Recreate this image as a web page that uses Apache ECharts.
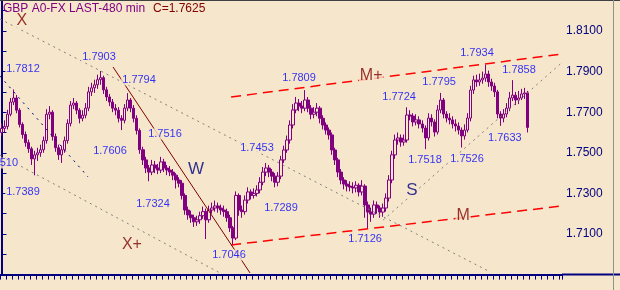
<!DOCTYPE html>
<html><head><meta charset="utf-8">
<script src="https://cdn.jsdelivr.net/npm/echarts@6/dist/echarts.min.js"></script>
<style>html,body{margin:0;padding:0;background:#F6E7CC;} #c{width:620px;height:290px;}</style>
</head><body><div id="c"></div><script>
// ---- data ----
const firstOpen = 1.7600;
const closes = [1.7620,1.7630,1.7690,1.7750,1.7770,1.7710,1.7640,1.7590,1.7550,1.7520,
1.7470,1.7490,1.7500,1.7515,1.7560,1.7690,1.7700,1.7580,1.7525,1.7490,
1.7515,1.7560,1.7645,1.7735,1.7745,1.7710,1.7670,1.7685,1.7720,1.7800,
1.7820,1.7835,1.7860,1.7870,1.7810,1.7775,1.7750,1.7720,1.7710,1.7670,
1.7660,1.7720,1.7760,1.7720,1.7670,1.7610,1.7515,1.7465,1.7425,1.7405,
1.7440,1.7425,1.7415,1.7455,1.7425,1.7415,1.7405,1.7390,1.7366,1.7350,
1.7290,1.7218,1.7194,1.7180,1.7160,1.7170,1.7190,1.7210,1.7170,1.7218,
1.7228,1.7238,1.7228,1.7218,1.7210,1.7180,1.7130,1.7080,1.7290,1.7218,
1.7210,1.7267,1.7307,1.7290,1.7300,1.7317,1.7355,1.7405,1.7425,1.7405,
1.7385,1.7355,1.7385,1.7465,1.7514,1.7563,1.7637,1.7711,1.7745,1.7730,
1.7720,1.7760,1.7720,1.7690,1.7700,1.7720,1.7670,1.7637,1.7612,1.7588,
1.7514,1.7465,1.7405,1.7366,1.7346,1.7336,1.7331,1.7327,1.7340,1.7307,
1.7336,1.7243,1.7208,1.7198,1.7243,1.7228,1.7208,1.7228,1.7277,1.7366,
1.7490,1.7563,1.7573,1.7553,1.7563,1.7686,1.7681,1.7652,1.7662,1.7642,
1.7622,1.7573,1.7671,1.7652,1.7602,1.7711,1.7760,1.7691,1.7671,1.7662,
1.7642,1.7632,1.7612,1.7583,1.7612,1.7671,1.7809,1.7859,1.7849,1.7859,
1.7868,1.7888,1.7849,1.7829,1.7800,1.7691,1.7671,1.7691,1.7720,1.7770,
1.7784,1.7760,1.7770,1.7790,1.7795,1.7625];
const highs = [1.7645,1.7660,1.7712,1.7770,1.7812,1.7785,1.7720,1.7650,1.7605,1.7565,
1.7530,1.7510,1.7525,1.7540,1.7580,1.7715,1.7730,1.7710,1.7595,1.7540,
1.7535,1.7580,1.7665,1.7755,1.7770,1.7755,1.7720,1.7710,1.7745,1.7825,
1.7845,1.7860,1.7885,1.7903,1.7880,1.7825,1.7790,1.7765,1.7740,1.7725,
1.7685,1.7740,1.7794,1.7770,1.7735,1.7685,1.7620,1.7530,1.7480,1.7440,
1.7465,1.7460,1.7445,1.7480,1.7470,1.7440,1.7435,1.7420,1.7400,1.7380,
1.7365,1.7300,1.7235,1.7215,1.7195,1.7190,1.7210,1.7235,1.7225,1.7240,
1.7255,1.7265,1.7255,1.7245,1.7240,1.7225,1.7195,1.7140,1.7310,1.7300,
1.7240,1.7290,1.7330,1.7320,1.7325,1.7340,1.7380,1.7430,1.7450,1.7440,
1.7420,1.7400,1.7405,1.7485,1.7535,1.7585,1.7660,1.7740,1.7775,1.7765,
1.7755,1.7809,1.7775,1.7735,1.7725,1.7745,1.7730,1.7685,1.7650,1.7625,
1.7600,1.7525,1.7475,1.7420,1.7380,1.7365,1.7360,1.7355,1.7360,1.7350,
1.7365,1.7345,1.7260,1.7230,1.7265,1.7260,1.7240,1.7250,1.7300,1.7390,
1.7510,1.7590,1.7600,1.7590,1.7590,1.7724,1.7710,1.7695,1.7690,1.7680,
1.7660,1.7635,1.7695,1.7690,1.7665,1.7735,1.7795,1.7770,1.7705,1.7695,
1.7680,1.7665,1.7650,1.7625,1.7640,1.7695,1.7830,1.7880,1.7885,1.7890,
1.7900,1.7934,1.7905,1.7865,1.7845,1.7810,1.7705,1.7715,1.7745,1.7800,
1.7858,1.7800,1.7805,1.7815,1.7820,1.7805];
const lows = [1.7585,1.7600,1.7615,1.7680,1.7735,1.7695,1.7625,1.7570,1.7530,1.7500,
1.7440,1.7389,1.7460,1.7480,1.7500,1.7545,1.7665,1.7560,1.7505,1.7465,
1.7450,1.7500,1.7545,1.7630,1.7715,1.7690,1.7645,1.7655,1.7670,1.7705,
1.7780,1.7795,1.7815,1.7835,1.7790,1.7755,1.7730,1.7700,1.7685,1.7650,
1.7612,1.7645,1.7705,1.7700,1.7650,1.7590,1.7495,1.7440,1.7400,1.7360,
1.7390,1.7400,1.7395,1.7400,1.7405,1.7390,1.7385,1.7365,1.7324,1.7330,
1.7270,1.7195,1.7170,1.7155,1.7135,1.7140,1.7150,1.7175,1.7075,1.7155,
1.7200,1.7210,1.7205,1.7195,1.7185,1.7160,1.7110,1.7046,1.7070,1.7190,
1.7180,1.7195,1.7250,1.7270,1.7275,1.7285,1.7300,1.7340,1.7385,1.7380,
1.7360,1.7330,1.7335,1.7370,1.7450,1.7500,1.7545,1.7620,1.7695,1.7705,
1.7695,1.7705,1.7700,1.7665,1.7670,1.7680,1.7645,1.7615,1.7590,1.7565,
1.7490,1.7440,1.7380,1.7345,1.7320,1.7310,1.7310,1.7300,1.7305,1.7285,
1.7290,1.7180,1.7126,1.7160,1.7180,1.7200,1.7180,1.7185,1.7210,1.7260,
1.7350,1.7470,1.7540,1.7530,1.7535,1.7550,1.7660,1.7630,1.7635,1.7620,
1.7600,1.7518,1.7560,1.7630,1.7580,1.7590,1.7695,1.7670,1.7650,1.7640,
1.7620,1.7605,1.7590,1.7526,1.7565,1.7600,1.7655,1.7790,1.7825,1.7830,
1.7840,1.7850,1.7825,1.7805,1.7775,1.7670,1.7633,1.7650,1.7675,1.7705,
1.7755,1.7735,1.7740,1.7760,1.7765,1.7600];
const barCount = 187;               // slots on the time axis (incl. empty future)
const yTicks = [1.71,1.73,1.75,1.77,1.79,1.81];

// trend lines: [x index, price]
const lineUpperM = [[76.4,1.7775],[186.5,1.7987]];
const lineLowerM = [[76.4,1.7046],[186.5,1.7238]];
const lineW      = [[37.1,1.7923],[82.7,1.6908]];
const lineGrayA  = [[-0.5,1.8159],[162.6,1.6913]];
const lineGrayB  = [[-0.5,1.7489],[72.7,1.6908]];
const lineNavy   = [[-0.5,1.7878],[28.8,1.7381]];
const lineGrayS  = [[127.0,1.7169],[185.9,1.7937]];

// price annotations: text, x index, price
const priceNotes = [
 ['1.7812',7.15,1.7913],['1.7903',32.45,1.7972],['1.7794',45.76,1.7859],
 ['1.7389',7.15,1.7307],['1.7606',36.1,1.7509],['1.7516',54.4,1.7593],
 ['1.7324',50.4,1.7248],['1.7453',85.0,1.7524],['1.7289',93.0,1.7228],
 ['1.7046',75.7,1.6997],['1.7809',99.0,1.7868],['1.7126',121.0,1.7075],
 ['1.7724',132.3,1.7775],['1.7795',145.6,1.7849],['1.7934',158.2,1.7992],
 ['1.7858',172.2,1.7908],['1.7518',140.9,1.7465],['1.7526',154.9,1.7469],
 ['1.7633',167.5,1.7573]
];
const leftCutNote = ['1.7510',6.0,1.7450];
const waveNotes = [['W',64.7,1.7420,'#000080'],['S',136.6,1.7317,'#000080']];
const levelNotes = [['M+',123.0,1.7878],['M',153.6,1.7189],['X+',43.4,1.7046],['X',6.8,1.8149]];

// ---- build ----
const BG = '#F6E7CC', PURPLE = '#800080', NAVY = '#000080', DRED = '#800000';
const FONT = 'Liberation Sans, Arial, sans-serif';
const cats = []; for (let i = 0; i < barCount; i++) cats.push(String(i + 1));
const candles = closes.map((c, i) => [i === 0 ? firstOpen : closes[i - 1], c, lows[i], highs[i]]);

function lineSeries(pts, color, width, type) {
  return { type: 'line', xAxisIndex: 1, yAxisIndex: 0, data: pts, symbol: 'none', silent: true,
    animation: false, z: 3, lineStyle: { color: color, width: width, type: type } };
}
const noteData = [];
priceNotes.forEach(n => noteData.push({ value: [n[1], n[2]], name: n[0],
  label: { color: '#0000ff', fontSize: 11 } }));
noteData.push({ value: [leftCutNote[1], leftCutNote[2]], name: leftCutNote[0],
  label: { color: '#0000ff', fontSize: 11, position: 'left', distance: 0 } });
waveNotes.forEach(n => noteData.push({ value: [n[1], n[2]], name: n[0],
  label: { color: n[3], fontSize: 17 } }));
levelNotes.forEach(n => noteData.push({ value: [n[1], n[2]], name: n[0],
  label: { color: DRED, fontSize: 16 } }));

const chart = echarts.init(document.getElementById('c'), null, { renderer: 'canvas' });
chart.setOption({
  animation: false,
  backgroundColor: BG,
  textStyle: { fontFamily: FONT },
  grid: { left: 0, right: 58, top: 0, bottom: 15.4, containLabel: false },
  xAxis: [
    { type: 'category', data: cats, boundaryGap: true,
      axisLine: { lineStyle: { color: NAVY, width: 2 } },
      axisTick: { show: true, interval: 1, length: 5, lineStyle: { color: NAVY } },
      axisLabel: { show: false }, splitLine: { show: false } },
    { type: 'value', min: -0.5, max: barCount - 0.5, show: false }
  ],
  yAxis: [{
    type: 'value', position: 'right', min: 1.69, max: 1.82527, interval: 0.01,
    axisLine: { show: true, lineStyle: { color: NAVY, width: 2 } },
    axisTick: { show: true, length: 5, lineStyle: { color: NAVY } },
    splitLine: { show: false },
    axisLabel: { color: NAVY, fontSize: 12, fontFamily: FONT, margin: 4, showMaxLabel: false,
      formatter: v => (yTicks.some(t => Math.abs(t - v) < 1e-6) ? v.toFixed(4) : '') }
  }],
  graphic: [
    { type: 'text', left: 3, top: 3, z: 20,
      style: { text: 'GBP A0-FX LAST-480 min', fill: PURPLE, font: '12px ' + FONT } },
    { type: 'text', left: 153, top: 3, z: 20,
      style: { text: 'C=' + closes[closes.length - 1].toFixed(4), fill: DRED, font: '12px ' + FONT } },
    { type: 'line', z: 20, shape: { x1: 562, y1: 274.5, x2: 620, y2: 274.5 }, style: { stroke: NAVY, lineWidth: 2 } },
    { type: 'line', z: 20, shape: { x1: 0, y1: 0.5, x2: 620, y2: 0.5 }, style: { stroke: '#404040', lineWidth: 1 } },
    { type: 'line', z: 20, shape: { x1: 613.5, y1: 0, x2: 613.5, y2: 290 }, style: { stroke: '#909090', lineWidth: 1 } }
  ],
  series: [
    { type: 'candlestick', xAxisIndex: 0, yAxisIndex: 0, data: candles, barWidth: 3, z: 2,
      itemStyle: { color: BG, color0: PURPLE, borderColor: PURPLE, borderColor0: PURPLE, borderWidth: 1 } },
    lineSeries(lineUpperM, '#ff0000', 1.5, [10, 6]),
    lineSeries(lineLowerM, '#ff0000', 1.5, [10, 6]),
    lineSeries(lineW, DRED, 1, 'solid'),
    lineSeries(lineGrayA, '#808080', 1, [2, 4]),
    lineSeries(lineGrayB, '#808080', 1, [2, 4]),
    lineSeries(lineNavy, NAVY, 1, [2, 5]),
    lineSeries(lineGrayS, '#808080', 1, [2, 4]),
    { type: 'scatter', xAxisIndex: 1, yAxisIndex: 0, data: noteData, symbolSize: 1, z: 10, silent: true,
      itemStyle: { color: 'rgba(0,0,0,0)' },
      label: { show: true, position: 'inside', formatter: p => p.name, fontFamily: FONT,
        backgroundColor: BG, padding: [0, 1] } }
  ]
});
</script></body></html>
